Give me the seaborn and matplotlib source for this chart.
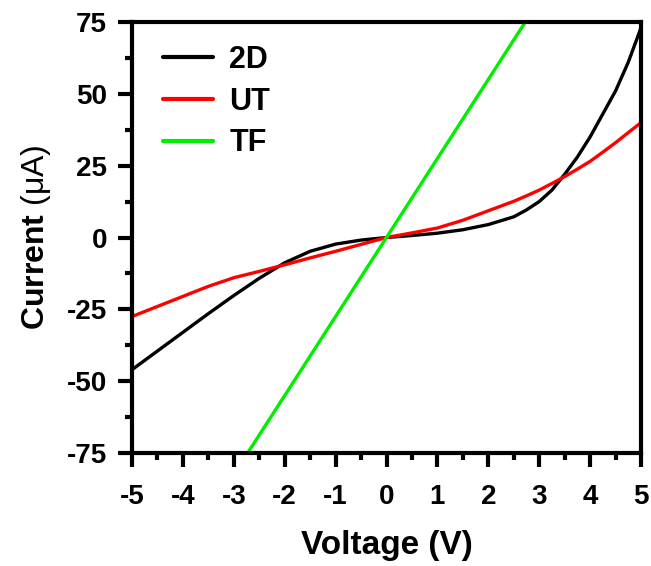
import numpy as np
import pandas as pd
import matplotlib
matplotlib.use("Agg")
import matplotlib.pyplot as plt
import seaborn as sns
from matplotlib.ticker import MultipleLocator

# Data
voltage = [-5, -4.5, -4, -3.5, -3, -2.5, -2, -1.5, -1, -0.5, 0,
           0.5, 1, 1.5, 2, 2.5, 2.75, 3, 3.25, 3.5, 3.75, 4, 4.25, 4.5, 4.75, 5]
current_2d = [-46, -39.5, -33, -26.5, -20.2, -14.2, -8.8, -4.8, -2.3, -0.9, 0,
              0.7, 1.5, 2.7, 4.5, 7.2, 9.6, 12.5, 16.5, 22, 28, 35, 43, 51, 61, 73]
current_ut = [-27.5, -24, -20.5, -17, -14, -11.8, -9.5, -7.1, -4.8, -2.4, 0,
              1.6, 3.3, 6, 9.3, 12.6, 14.5, 16.5, 18.8, 21.2, 23.8, 26.5, 29.7, 33, 36.5, 40]
voltage_tf = [-3, -2, -1, 0, 1, 2, 3]
current_tf = [-82.5, -55, -27.5, 0, 27.5, 55, 82.5]

series = ["2D", "UT", "TF"]
colors = {"2D": "#000000", "UT": "#ff0000", "TF": "#00ee00"}

df = pd.concat([
    pd.DataFrame({"V": voltage, "I": current_2d, "s": "2D"}),
    pd.DataFrame({"V": voltage, "I": current_ut, "s": "UT"}),
    pd.DataFrame({"V": voltage_tf, "I": current_tf, "s": "TF"}),
], ignore_index=True)

sns.set_style("ticks")
plt.rcParams["font.family"] = ["Liberation Sans", "DejaVu Sans"]
plt.rcParams["font.weight"] = "bold"
plt.rcParams["axes.unicode_minus"] = False
plt.rcParams["mathtext.fontset"] = "custom"
plt.rcParams["mathtext.bf"] = "Liberation Sans:bold"
plt.rcParams["mathtext.rm"] = "Liberation Sans"
for k in ["text.color", "axes.labelcolor", "xtick.color", "ytick.color", "axes.edgecolor"]:
    plt.rcParams[k] = "black"

fig = plt.figure(figsize=(6.51, 5.66), dpi=100)
ax = fig.add_axes([132/651, 113/566, (641-132)/651, (453-22)/566])

sns.lineplot(data=df, x="V", y="I", hue="s", hue_order=series, palette=colors,
             linewidth=2.4, ax=ax, sort=False, estimator=None)

ax.set_xlim(-5, 5)
ax.set_ylim(-75, 75)
ax.xaxis.set_major_locator(MultipleLocator(1))
ax.xaxis.set_minor_locator(MultipleLocator(0.5))
ax.yaxis.set_major_locator(MultipleLocator(25))
ax.yaxis.set_minor_locator(MultipleLocator(12.5))

for sp in ax.spines.values():
    sp.set_linewidth(3)
    sp.set_visible(True)
    sp.set_color("black")
ax.tick_params(which="major", length=10, width=3, direction="out",
               labelsize=20, colors="black")
ax.tick_params(axis="x", which="major", pad=12)
ax.tick_params(axis="y", which="major", pad=8)
ax.tick_params(which="minor", length=5, width=3, direction="out", colors="black")
ax.tick_params(top=False, right=False, which="both")
for lbl in ax.get_xticklabels() + ax.get_yticklabels():
    lbl.set_fontweight("bold")

ax.set_xlabel("Voltage (V)", fontsize=24, fontweight="bold", labelpad=15)
ax.set_ylabel(r"$\mathbf{Current}$ (μA)", fontsize=23, fontweight="normal", labelpad=10)

leg = ax.legend(loc="upper left", frameon=False, fontsize=22, handlelength=1.65,
                bbox_to_anchor=(0.037, 0.975), borderaxespad=0,
                labelspacing=0.38, handletextpad=0.52)
for t in leg.get_texts():
    t.set_fontweight("bold")
for l in leg.get_lines():
    l.set_linewidth(3)

fig.savefig("out.png", dpi=100)
